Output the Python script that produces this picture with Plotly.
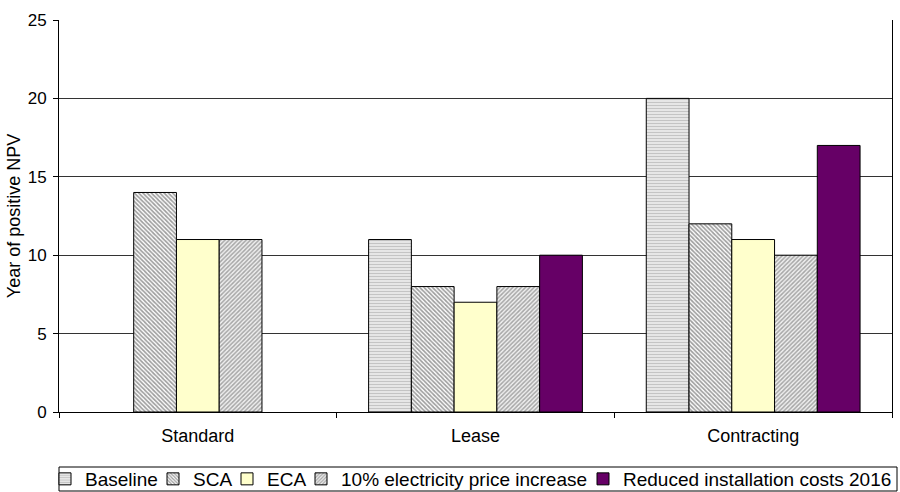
import plotly.graph_objects as go

categories = ["Standard", "Lease", "Contracting"]
baseline = [None, 11, 20]
sca = [14, 8, 12]
eca = [11, 7, 11]
price_up = [11, 8, 10]
reduced_costs = [None, 10, 17]

series = [
    ("Baseline", baseline, dict(shape="-", bgcolor="#ececec", fgcolor="#9c9c9c", size=3, solidity=0.45)),
    ("SCA", sca, dict(shape="\\", bgcolor="#ffffff", fgcolor="#3c3c3c", size=3, solidity=0.55)),
    ("ECA", eca, None),
    ("10% electricity price increase", price_up, dict(shape="/", bgcolor="#f0f0f0", fgcolor="#5c5c5c", size=3, solidity=0.5)),
    ("Reduced installation costs 2016", reduced_costs, None),
]
solid_colors = {"ECA": "#ffffcc", "Reduced installation costs 2016": "#660066"}

# Plot-area geometry in pixels (used to place the legend row below the axis)
W, H = 900, 492
ML, MR, MT, MB = 59, 8, 20, 80
PW, PH = W - ML - MR, H - MT - MB


def px_to_paper_x(px):
    return (px - ML) / PW


def px_to_paper_y(py):
    return (H - MB - py) / PH


# Left edge of each legend entry's text, one legend per series
legend_text_x = [86, 194, 268, 342, 624]
legend_font = 19

fig = go.Figure()
layout_legends = {}
for i, (name, vals, pat) in enumerate(series):
    marker = dict(line=dict(color="#000000", width=1))
    if pat is not None:
        marker["color"] = pat["bgcolor"]
        marker["pattern"] = pat
    else:
        marker["color"] = solid_colors[name]
    key = "legend" if i == 0 else f"legend{i + 1}"
    fig.add_trace(go.Bar(x=categories, y=vals, name=name, marker=marker, legend=key))
    layout_legends[key] = dict(
        orientation="h", xref="paper", yref="paper",
        x=px_to_paper_x(legend_text_x[i] - 41), xanchor="left",
        y=px_to_paper_y(479), yanchor="middle",
        borderwidth=0, bgcolor="rgba(0,0,0,0)",
        font=dict(size=legend_font), itemwidth=30,
    )

fig.update_layout(**layout_legends)

# Frame around the legend row
fig.add_shape(
    type="rect", xref="paper", yref="paper",
    x0=px_to_paper_x(59), x1=px_to_paper_x(897),
    y0=px_to_paper_y(491), y1=px_to_paper_y(467),
    line=dict(color="#000000", width=1), fillcolor="rgba(0,0,0,0)",
)

fig.update_layout(
    width=W, height=H,
    margin=dict(l=ML, r=MR, t=MT, b=MB, autoexpand=False),
    barmode="group", bargap=0.23, bargroupgap=0,
    plot_bgcolor="#ffffff", paper_bgcolor="#ffffff",
    font=dict(family="Liberation Sans, Arial, sans-serif", size=17, color="#000000"),
    showlegend=True,
    xaxis=dict(
        showline=True, linecolor="#000000", linewidth=1,
        ticks="outside", ticklen=5, tickcolor="#000000", tickson="boundaries",
        tickfont=dict(size=18), ticklabelstandoff=7,
    ),
    yaxis=dict(
        range=[0, 25], dtick=5, showgrid=True, gridcolor="#333333", gridwidth=1,
        showline=True, linecolor="#000000", linewidth=1, mirror=True,
        ticks="outside", ticklen=5, tickcolor="#000000",
        tickfont=dict(size=17), ticklabelstandoff=3,
        title=dict(text="Year of positive NPV", font=dict(size=18), standoff=2),
    ),
)

fig.write_html("out.html")
